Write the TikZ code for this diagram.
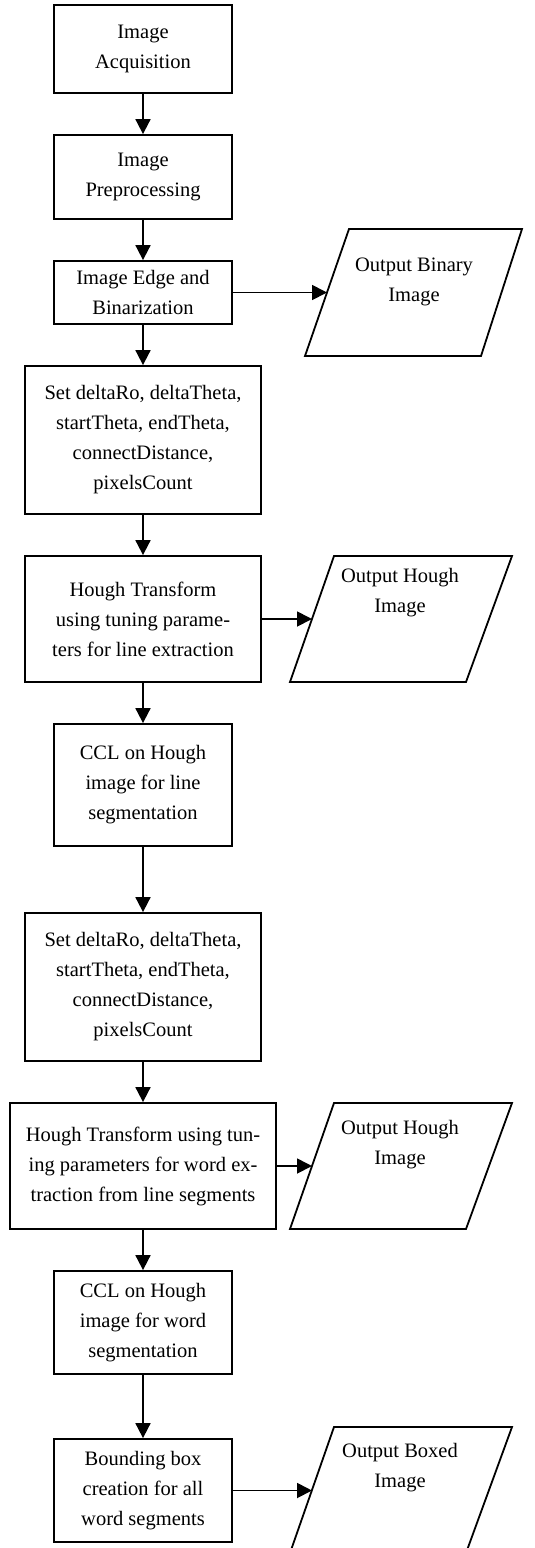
\documentclass[tikz,border=0pt]{standalone}
\usepackage{fontspec}
\setmainfont{Liberation Serif}
\usetikzlibrary{arrows.meta}
\begin{document}
\begin{tikzpicture}[x=1pt, y=-1pt,
	font=\fontsize{20.5}{30}\selectfont,
	procbox/.style={draw, line width=1.8pt, align=center, inner sep=0pt},
	iobox/.style={draw, line width=1.8pt, line join=miter},
	iotext/.style={align=center, inner sep=0pt},
	flow/.style={line width=1.8pt, -{Triangle[length=15pt, width=15pt]}}]
	
	\clip (0,0) rectangle (535,1548);
	\node[procbox, minimum width=178pt, minimum height=88pt] (acq) at (143,49) {Image\\Acquisition};
	\node[procbox, minimum width=178pt, minimum height=84pt] (pre) at (143,177) {Image\\Preprocessing};
	\node[procbox, minimum width=178pt, minimum height=63pt] (edge) at (143,292.5) {Image Edge and\\Binarization};
	\node[procbox, minimum width=236pt, minimum height=148pt] (set1) at (143,440) {Set deltaRo, deltaTheta,\\startTheta, endTheta,\\connectDistance,\\pixelsCount};
	\node[procbox, minimum width=236pt, minimum height=126pt] (hough1) at (143,619) {Hough Transform\\using tuning parame-\\ters for line extraction};
	\node[procbox, minimum width=178pt, minimum height=122pt] (ccl1) at (143,785) {CCL on Hough\\image for line\\segmentation};
	\node[procbox, minimum width=236pt, minimum height=148pt] (set2) at (143,987) {Set deltaRo, deltaTheta,\\startTheta, endTheta,\\connectDistance,\\pixelsCount};
	\node[procbox, minimum width=266pt, minimum height=126pt] (hough2) at (143,1166) {Hough Transform using tun-\\ing parameters for word ex-\\traction from line segments};
	\node[procbox, minimum width=178pt, minimum height=103pt] (ccl2) at (143,1322.5) {CCL on Hough\\image for word\\segmentation};
	\node[procbox, minimum width=178pt, minimum height=103pt] (bound) at (143,1490.5) {Bounding box\\creation for all\\word segments};
	
	\draw[iobox] (349,229) -- (522,229) -- (481,356) -- (305,356) -- cycle;
	\draw[iobox] (334,556) -- (512,556) -- (466,682) -- (290,682) -- cycle;
	\draw[iobox] (334,1103) -- (512,1103) -- (466,1229) -- (290,1229) -- cycle;
	\draw[iobox] (334,1427) -- (512,1427) -- (466,1553) -- (290,1553) -- cycle;
	\node[iotext] (outbin) at (414,282) {Output Binary\\Image};
	\node[iotext] (outhough1) at (400,593) {Output Hough\\Image};
	\node[iotext] (outhough2) at (400,1145) {Output Hough\\Image};
	\node[iotext] (outboxed) at (400,1468) {Output Boxed\\Image};
	\coordinate (inbin) at (327,292.5);
	\coordinate (inhough1) at (312,619);
	\coordinate (inhough2) at (312,1166);
	\coordinate (inboxed) at (312,1490.5);
	
	\draw[flow] (acq) -- (pre);
	\draw[flow] (pre) -- (edge);
	\draw[flow] (edge) -- (set1);
	\draw[flow] (set1) -- (hough1);
	\draw[flow] (hough1) -- (ccl1);
	\draw[flow] (ccl1) -- (set2);
	\draw[flow] (set2) -- (hough2);
	\draw[flow] (hough2) -- (ccl2);
	\draw[flow] (ccl2) -- (bound);
	\draw[flow] (edge.east) -- (inbin);
	\draw[flow] (hough1.east) -- (inhough1);
	\draw[flow] (hough2.east) -- (inhough2);
	\draw[flow] (bound.east) -- (inboxed);
\end{tikzpicture}
\end{document}
